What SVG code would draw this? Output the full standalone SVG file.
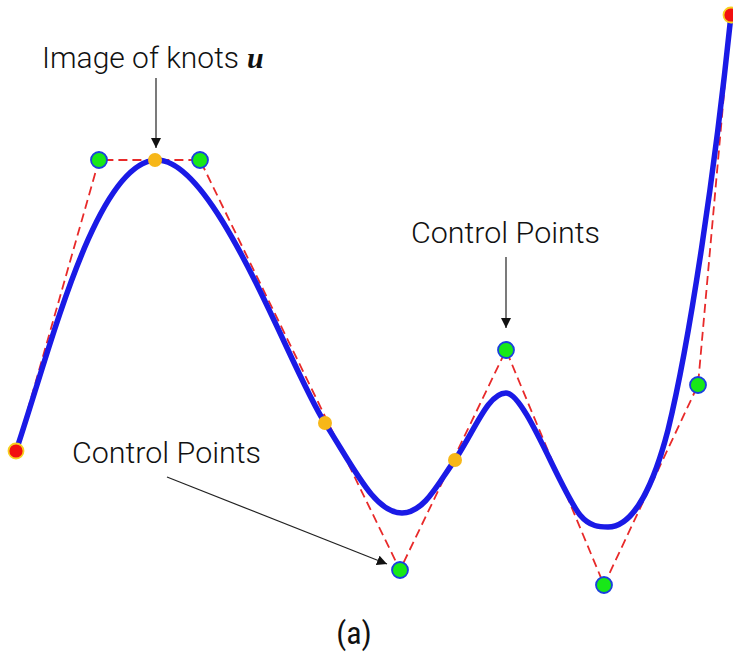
<svg xmlns="http://www.w3.org/2000/svg" width="733" height="656" viewBox="0 0 733 656">
<style>
.lbl{font-family:Roboto,"Liberation Sans",sans-serif;font-weight:300;font-size:30px;fill:#111}
.poly{fill:none;stroke:#e82a2a;stroke-width:1.8;stroke-dasharray:9 5}
.curve{fill:none;stroke:#1a1ae6;stroke-width:5.5;stroke-linecap:round}
.cp{fill:#18e818;stroke:#1a3ee0;stroke-width:1.8}
.knot{fill:#f7b718}
.end{fill:#f21010;stroke:#f7d020;stroke-width:1.8}
.arr{stroke:#222;stroke-width:1.2;fill:none;marker-end:url(#ah)}
</style>
<defs>
<marker id="ah" viewBox="0 0 10 10" refX="10" refY="5" markerWidth="10" markerHeight="10" markerUnits="userSpaceOnUse" orient="auto">
<path d="M0,0 L10,5 L0,10 z" fill="#111"/>
</marker>
</defs>
<g id="connectors">
<polyline class="poly" points="16,451 99,160 200,160 400,570 506,350 604,585 698,385 731,15"/>
<path id="curve" class="curve" d="M16,451 C50,350 95,165 155,160 C215,155 290,370 325,423 C355,470 375,513 402,513 C425,513 440,480 455,460 C475,430 488,393 506,393 C525,393 560,490 580,515 C590,527 600,527 608,527 C635,527 655,480 668,430 C690,340 715,170 731,15"/>
<line class="arr" x1="156" y1="78" x2="156" y2="148"/>
<line class="arr" x1="506" y1="257" x2="506" y2="328"/>
<line class="arr" x1="167" y1="477" x2="387" y2="564"/>
</g>
<g id="end-left"><circle class="end" cx="16" cy="451" r="7.5"/></g>
<g id="end-right"><circle class="end" cx="731" cy="15" r="7.5"/></g>
<g id="cp1"><circle class="cp" cx="99" cy="160" r="8"/></g>
<g id="cp2"><circle class="cp" cx="200" cy="160" r="8"/></g>
<g id="cp3"><circle class="cp" cx="400" cy="570" r="8"/></g>
<g id="cp4"><circle class="cp" cx="506" cy="350" r="8"/></g>
<g id="cp5"><circle class="cp" cx="604" cy="585" r="8"/></g>
<g id="cp6"><circle class="cp" cx="698" cy="385" r="8"/></g>
<g id="knot1"><circle class="knot" cx="155" cy="160" r="7"/></g>
<g id="knot2"><circle class="knot" cx="325" cy="423" r="7"/></g>
<g id="knot3"><circle class="knot" cx="455" cy="460" r="7"/></g>
<g id="label-knots"><text class="lbl" x="42" y="68"><tspan textLength="197" lengthAdjust="spacingAndGlyphs">Image of knots</tspan> <tspan x="247" style="font-family:'Liberation Serif',serif;font-weight:bold;font-style:italic">u</tspan></text></g>
<g id="label-cp-top"><text class="lbl" x="411" y="243" textLength="189" lengthAdjust="spacingAndGlyphs">Control Points</text></g>
<g id="label-cp-bottom"><text class="lbl" x="72" y="463" textLength="189" lengthAdjust="spacingAndGlyphs">Control Points</text></g>
<g id="caption"><text x="354" y="644" text-anchor="middle" style="font-family:'Liberation Sans Narrow','Roboto Condensed','Liberation Sans',sans-serif;font-size:32px;fill:#111">(a)</text></g>
</svg>
